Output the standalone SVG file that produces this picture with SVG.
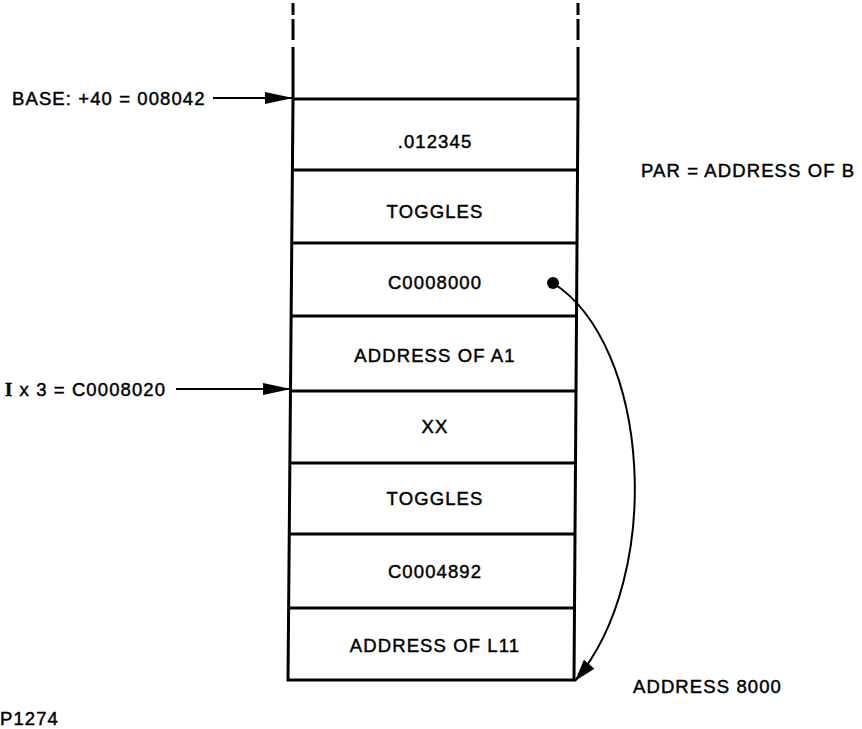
<svg xmlns="http://www.w3.org/2000/svg" width="862" height="729" viewBox="0 0 862 729">
<style>
text{font-family:"Liberation Sans",Arial,sans-serif;font-size:18.5px;fill:#000;stroke:#000;stroke-width:0.45;letter-spacing:1.1px}
.c{text-anchor:middle}
.ln{stroke:#000;stroke-width:3;fill:none}
.thin{stroke:#000;stroke-width:2;fill:none}
</style>
<defs>
<marker id="ah" markerWidth="30" markerHeight="12" refX="28" refY="6" orient="auto" markerUnits="userSpaceOnUse">
<path d="M0,0 L28,6 L0,12 Z" fill="#000"/>
</marker>
<marker id="ah2" markerWidth="24" markerHeight="14" refX="22" refY="7" orient="auto" markerUnits="userSpaceOnUse">
<path d="M0,0 L22,7 L0,14 Z" fill="#000"/>
</marker>
</defs>
<rect width="862" height="729" fill="#fff"/>
<g id="stack">
<path class="ln" d="M293,3 V15 M293,19 V40" />
<path class="ln" d="M578,3 V15 M578,19 V40" />
<path class="ln" d="M293,47 V100 L288,680 H574 L578,100 V47"/>
<path class="ln" d="M293,99 H578"/>
</g>
<g id="row1"><path class="ln" d="M293,170 H578"/><text class="c" x="435" y="148">.012345</text></g>
<g id="row2"><path class="ln" d="M293,243 H578"/><text class="c" x="435" y="218">TOGGLES</text></g>
<g id="row3"><path class="ln" d="M292,316 H577"/><text class="c" x="435" y="289">C0008000</text></g>
<g id="row4"><path class="ln" d="M291,391 H577"/><text class="c" x="435" y="362">ADDRESS OF A1</text></g>
<g id="row5"><path class="ln" d="M291,463 H576"/><text class="c" x="435" y="433">XX</text></g>
<g id="row6"><path class="ln" d="M290,534 H576"/><text class="c" x="435" y="505">TOGGLES</text></g>
<g id="row7"><path class="ln" d="M290,608 H575"/><text class="c" x="435" y="578">C0004892</text></g>
<g id="row8"><text class="c" x="435" y="652">ADDRESS OF L11</text></g>
<g id="labels">
<text x="12" y="105">BASE: +40 = 008042</text>
<text x="5" y="396"><tspan style="font-family:'Liberation Serif',serif;font-weight:bold">I</tspan> x 3 = C0008020</text>
<text x="641" y="177">PAR = ADDRESS OF B</text>
<text x="633" y="693">ADDRESS 8000</text>
<text x="0" y="725">P1274</text>
</g>
<g id="connectors">
<path class="thin" d="M213,98 H293" marker-end="url(#ah)"/>
<path class="thin" d="M176,389 H291" marker-end="url(#ah)"/>
<circle cx="553" cy="283" r="6" fill="#000"/>
<path class="thin" d="M553,283 C650,345 665,575 575,681" marker-end="url(#ah2)"/>
</g>
</svg>
